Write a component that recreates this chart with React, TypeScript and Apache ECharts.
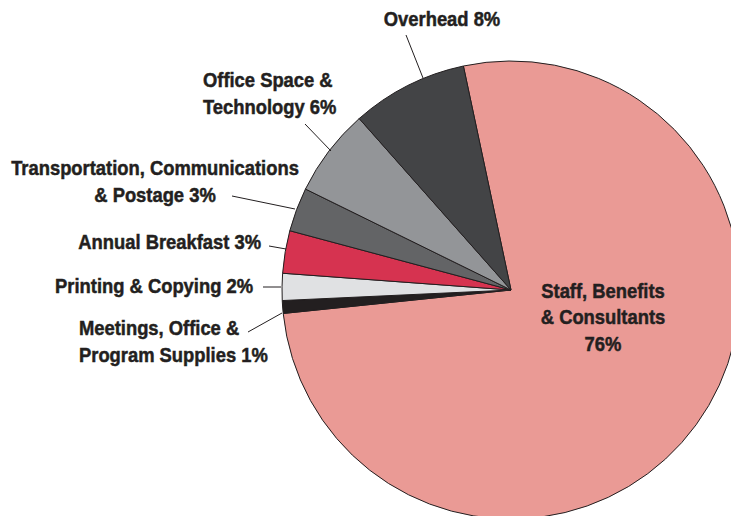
import React, { useEffect, useRef } from "react";
import * as echarts from "echarts";

const categories = [
  "Staff, Benefits & Consultants",
  "Meetings, Office & Program Supplies",
  "Printing & Copying",
  "Annual Breakfast",
  "Transportation, Communications & Postage",
  "Office Space & Technology",
  "Overhead",
];
const values = [76.7, 0.9, 1.9, 3.0, 3.1, 6.2, 8.2];
const percentLabels = ["76%", "1%", "2%", "3%", "3%", "6%", "8%"];
const labelLines = [
  ["Staff, Benefits", "& Consultants"],
  ["Meetings, Office &", "Program Supplies"],
  ["Printing & Copying"],
  ["Annual Breakfast"],
  ["Transportation, Communications", "& Postage"],
  ["Office Space &", "Technology"],
  ["Overhead"],
];
const colors = ["#EA9A95", "#231F20", "#E0E1E3", "#D63350", "#636466", "#939598", "#434446"];

// label placement (layout only)
const labelPlacement: any[] = [
  { x: 603, y: 317, align: "center", line: null },
  { x: 79, y: 341, align: "left", line: [[282, 313], [248, 332]] },
  { x: 253, y: 286, align: "right", line: [[281, 287], [263, 287]] },
  { x: 261, y: 242, align: "right", line: [[286, 249], [269, 246]] },
  { x: 155, y: 181, align: "center", line: [[295, 209], [232, 196]] },
  { x: 203, y: 93, align: "left", line: [[331, 151], [305, 124]] },
  { x: 442, y: 19, align: "center", line: [[423, 78], [406, 35]] },
];

const FONT = "'Liberation Sans', Arial, Helvetica, sans-serif";
const TEXT_COLOR = "#231F20";

export default function App() {
  const ref = useRef<HTMLDivElement>(null);
  useEffect(() => {
    document.body.style.margin = "0";
    const chart = echarts.init(ref.current!, undefined, { renderer: "svg" });
    const data = categories.map((name, i) => ({
      name,
      value: values[i],
      itemStyle: { color: colors[i] },
    }));
    const texts = categories.map((_, i) => {
      const lines = labelLines[i].slice();
      if (i === 0) lines.push(percentLabels[i]);
      else lines[lines.length - 1] = lines[lines.length - 1] + " " + percentLabels[i];
      const p = labelPlacement[i];
      return {
        type: "text",
        x: p.x,
        y: p.y,
        scaleX: 0.875,
        z: 10,
        style: {
          text: lines.join("\n"),
          fill: TEXT_COLOR,
          stroke: TEXT_COLOR,
          lineWidth: 0.5,
          fontFamily: FONT,
          fontWeight: "bold",
          fontSize: 21,
          lineHeight: 26.5,
          textAlign: p.align,
          textVerticalAlign: "middle",
        },
      };
    });
    const leaders = labelPlacement
      .filter((p) => p.line)
      .map((p) => ({
        type: "polyline",
        z: 10,
        shape: { points: p.line },
        style: { stroke: TEXT_COLOR, lineWidth: 1, fill: null },
      }));
    chart.setOption({
      animation: false,
      graphic: [...leaders, ...texts],
      series: [
        {
          type: "pie",
          center: [511, 290],
          radius: 229,
          startAngle: 102,
          clockwise: true,
          itemStyle: { borderColor: "#231F20", borderWidth: 1 },
          label: { show: false },
          labelLine: { show: false },
          emphasis: { disabled: true },
          data,
        },
      ],
    });
    return () => chart.dispose();
  }, []);
  return (
    <div
      ref={ref}
      style={{ position: "fixed", left: 0, top: 0, width: 731, height: 516, background: "#fff" }}
    />
  );
}
